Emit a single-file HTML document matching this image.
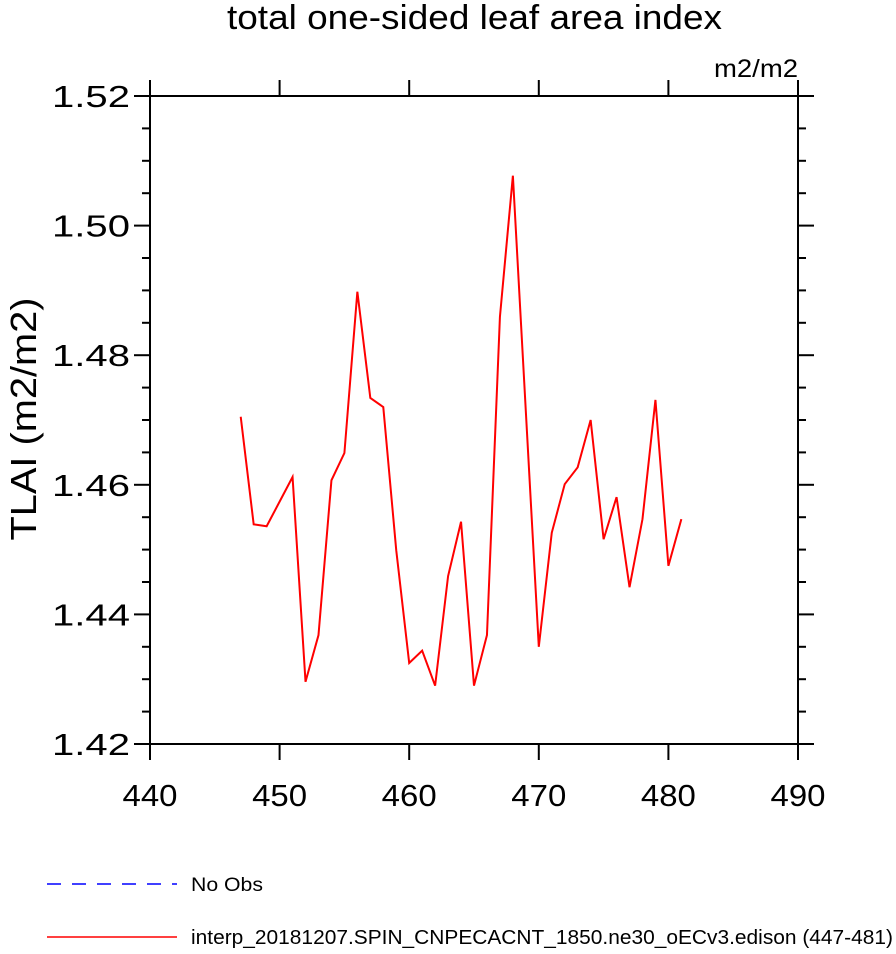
<!DOCTYPE html>
<html><head><meta charset="utf-8"><style>
body{margin:0;background:#fff;}
svg text{font-family:"Liberation Sans",sans-serif;}
</style></head><body>
<svg id="chart" width="896" height="949" viewBox="0 0 896 949" xmlns="http://www.w3.org/2000/svg">
<text x="227" y="29" font-size="34" textLength="495" lengthAdjust="spacingAndGlyphs">total one-sided leaf area index</text>
<text x="714" y="77" font-size="25" textLength="84" lengthAdjust="spacingAndGlyphs">m2/m2</text>
<text transform="translate(36,419) rotate(-90)" font-size="36" text-anchor="middle" textLength="243" lengthAdjust="spacingAndGlyphs">TLAI  (m2/m2)</text>
<rect x="150" y="96" width="648" height="648" fill="none" stroke="#000" stroke-width="2"/>
<g id="axes"></g>
<g id="series"></g>
<g>
<line x1="47" y1="884" x2="177" y2="884" stroke="#0000ff" stroke-width="1.5" stroke-dasharray="14,11"/>
<text x="191" y="891" font-size="19" textLength="72" lengthAdjust="spacingAndGlyphs">No Obs</text>
<line x1="47" y1="937" x2="177" y2="937" stroke="#ff0000" stroke-width="1.5"/>
<text x="191" y="944" font-size="20" textLength="702" lengthAdjust="spacingAndGlyphs">interp_20181207.SPIN_CNPECACNT_1850.ne30_oECv3.edison (447-481)</text>
</g>
</svg>
<script>
const years=[447,448,449,450,451,452,453,454,455,456,457,458,459,460,461,462,463,464,465,466,467,468,469,470,471,472,473,474,475,476,477,478,479,480,481];
const tlai=[1.4705,1.4539,1.4536,1.4574,1.4612,1.4296,1.4368,1.4607,1.4649,1.4898,1.4734,1.4720,1.4499,1.4325,1.4344,1.4290,1.4459,1.4543,1.4290,1.4368,1.4859,1.5077,1.4713,1.4350,1.4526,1.4601,1.4627,1.4700,1.4516,1.4581,1.4442,1.4547,1.4731,1.4475,1.4547];
const xTicks=[440,450,460,470,480,490];
const yTicks=[1.42,1.44,1.46,1.48,1.50,1.52];
const NS="http://www.w3.org/2000/svg";
const L=150,R=798,T=96,B=744;
function xs(v){return L+(v-440)/(490-440)*(R-L);}
function ys(v){return B-(v-1.42)/(1.52-1.42)*(B-T);}
const ax=document.getElementById('axes');
function ln(x1,y1,x2,y2,name){const l=document.createElementNS(NS,'line');
l.setAttribute('x1',x1);l.setAttribute('y1',y1);l.setAttribute('x2',x2);l.setAttribute('y2',y2);
l.setAttribute('stroke','#000');l.setAttribute('stroke-width','2');


ax.appendChild(l);}
xTicks.forEach(v=>{const x=xs(v);ln(x,B,x,B+16,'x-tick');ln(x,T,x,T-16,'x-tick-top');});
for(let i=0;i<=20;i++){const v=1.42+i*0.005;const y=ys(v);const maj=(i%4===0);const len=maj?16:8;
ln(L,y,L-len,y,'y-tick');ln(R,y,R+len,y,'y-tick-right');}
xTicks.forEach(v=>{const t=document.createElementNS(NS,'text');
t.setAttribute('x',xs(v));t.setAttribute('y',B+62);t.setAttribute('font-size','31');t.setAttribute('text-anchor','middle');
t.setAttribute('textLength','55');t.setAttribute('lengthAdjust','spacingAndGlyphs');
t.textContent=v;


ax.appendChild(t);});
yTicks.forEach(v=>{const t=document.createElementNS(NS,'text');
t.setAttribute('x',L-98);t.setAttribute('y',ys(v)+11);t.setAttribute('font-size','31');
t.setAttribute('textLength','78');t.setAttribute('lengthAdjust','spacingAndGlyphs');
t.textContent=v.toFixed(2);


ax.appendChild(t);});
const p=document.createElementNS(NS,'polyline');
p.setAttribute('points',years.map((y,i)=>xs(y)+','+ys(tlai[i])).join(' '));
p.setAttribute('fill','none');p.setAttribute('stroke','#ff0000');p.setAttribute('stroke-width','2');


document.getElementById('series').appendChild(p);
</script>
</body></html>
